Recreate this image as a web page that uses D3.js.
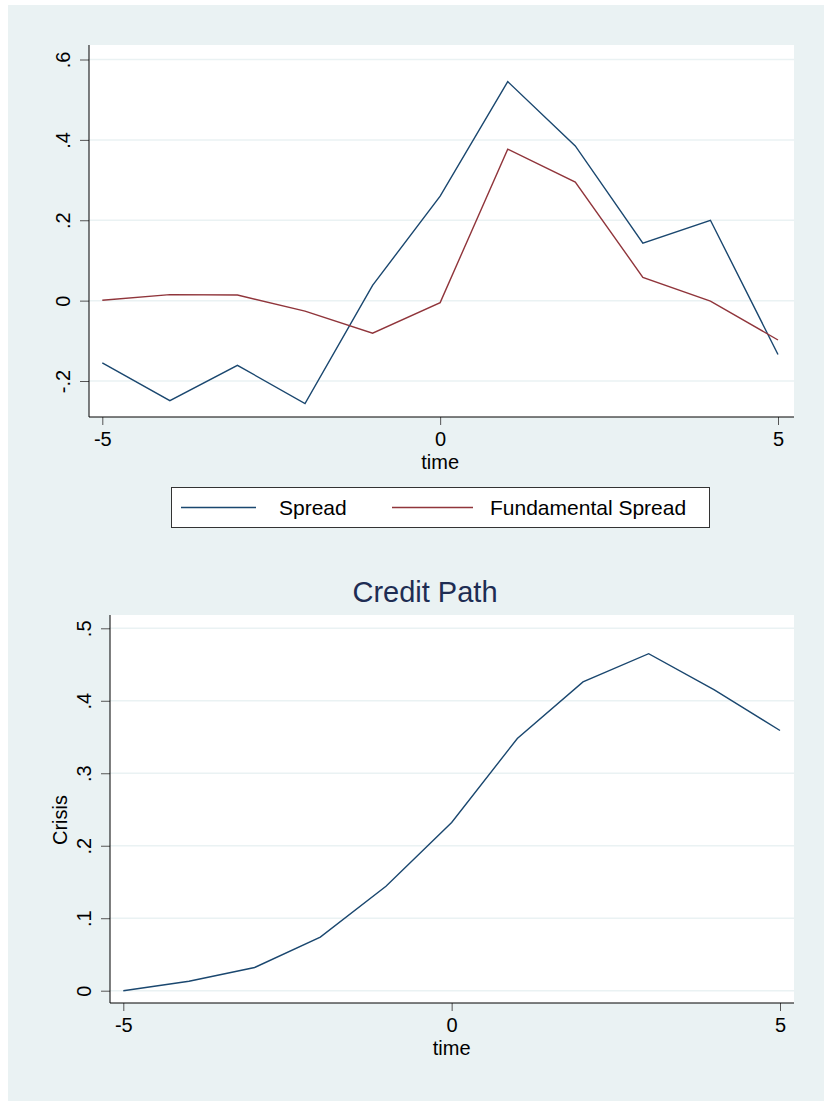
<!DOCTYPE html>
<html>
<head>
<meta charset="utf-8">
<script src="https://cdn.jsdelivr.net/npm/d3@7"></script>
<style>
body { margin:0; background:#fff; }
svg text { font-family: "Liberation Sans", Arial, sans-serif; fill:#000; }
</style>
</head>
<body>
<div id="chart"></div>
<script>
// event time
var time = [-5, -4, -3, -2, -1, 0, 1, 2, 3, 4, 5];
var spread = [-0.155, -0.249, -0.161, -0.256, 0.038, 0.260, 0.545, 0.385, 0.143, 0.200, -0.134];
var fundSpread = [0.001, 0.015, 0.014, -0.026, -0.081, -0.005, 0.377, 0.295, 0.058, -0.001, -0.098];
var crisis = [0.000, 0.013, 0.032, 0.074, 0.144, 0.232, 0.348, 0.426, 0.465, 0.415, 0.359];
var xTicks = [-5, 0, 5];
var yTicksTop = [-0.2, 0, 0.2, 0.4, 0.6];
var yTicksBot = [0, 0.1, 0.2, 0.3, 0.4, 0.5];
var legendLabels = ["Spread", "Fundamental Spread"];

var bg = "#eaf2f3", blue = "#1a476f", red = "#90353b";
var W = 824, H = 1101;

var svg = d3.select("#chart").append("svg").attr("width", W).attr("height", H);
svg.append("rect").attr("x", 8).attr("y", 5).attr("width", W - 8).attr("height", H - 5).attr("fill", bg);

// stata style labels: ".2", "-.2", plain hyphen
var fmt = function(d){ return d === 0 ? "0" : String(d).replace("0.", "."); };

function panel(o){
  var g = svg.append("g");
  g.append("rect").attr("x", o.left).attr("y", o.top)
    .attr("width", o.right - o.left).attr("height", o.bottom - o.top).attr("fill", "#fff");
  var x = d3.scaleLinear().domain([-5, 5]).range(o.xr);
  var y = d3.scaleLinear().domain(o.yd).range(o.yr);

  // grid
  g.selectAll(".grid").data(o.yTicks).enter().append("line")
    .attr("x1", o.left).attr("x2", o.right)
    .attr("y1", function(d){ return y(d); }).attr("y2", function(d){ return y(d); })
    .attr("stroke", bg).attr("stroke-width", 1.5);

  // y axis
  var ya = g.append("g").attr("transform", "translate(" + o.left + ",0)")
    .call(d3.axisLeft(y).tickValues(o.yTicks).tickFormat(fmt).tickSize(9));
  ya.select(".domain").remove();
  ya.append("line").attr("x1", 0).attr("x2", 0).attr("y1", o.top).attr("y2", o.bottom).attr("stroke", "#000");
  ya.selectAll(".tick line").attr("stroke", "#555");
  ya.selectAll(".tick text").attr("font-size", 20).attr("fill", "#000")
    .attr("text-anchor", "middle").attr("transform", "rotate(-90)")
    .attr("x", 0).attr("dy", 0).attr("y", -19);

  // x axis
  var xa = g.append("g").attr("transform", "translate(0," + o.bottom + ")")
    .call(d3.axisBottom(x).tickValues(xTicks).tickFormat(function(d){ return String(d); }).tickSize(8));
  xa.select(".domain").remove();
  xa.append("line").attr("x1", o.left).attr("x2", o.right).attr("y1", 0).attr("y2", 0).attr("stroke", "#000");
  xa.selectAll(".tick line").attr("stroke", "#555");
  xa.selectAll(".tick text").attr("font-size", 20).attr("fill", "#000").attr("dy", 0).attr("y", 29);

  g.append("text").attr("x", (o.xr[0] + o.xr[1]) / 2).attr("y", o.bottom + 52)
    .attr("text-anchor", "middle").attr("font-size", 20).text("time");

  var line = d3.line().x(function(d){ return x(d[0]); }).y(function(d){ return y(d[1]); });
  o.series.forEach(function(s){
    g.append("path").datum(d3.zip(time, s.values)).attr("d", line)
      .attr("fill", "none").attr("stroke", s.color).attr("stroke-width", 1.4);
  });
  return g;
}

panel({left: 89, right: 794, top: 45, bottom: 417, xr: [102.3, 778], yd: [-0.2, 0.6], yr: [381, 59.5],
  yTicks: yTicksTop, series: [{values: spread, color: blue}, {values: fundSpread, color: red}]});

var g2 = panel({left: 110, right: 794, top: 615, bottom: 1003, xr: [123.3, 780], yd: [0, 0.5], yr: [990.7, 628.3],
  yTicks: yTicksBot, series: [{values: crisis, color: blue}]});

g2.append("text").attr("transform", "translate(67,820) rotate(-90)")
  .attr("text-anchor", "middle").attr("font-size", 20).text("Crisis");

svg.append("text").attr("x", 425).attr("y", 602).attr("text-anchor", "middle")
  .attr("font-size", 29).style("fill", "#1e2d53").text("Credit Path");

// legend
var lg = svg.append("g");
lg.append("rect").attr("x", 171.5).attr("y", 487.5).attr("width", 538).attr("height", 40)
  .attr("fill", "#fff").attr("stroke", "#333");
var items = [{label: legendLabels[0], color: blue, x0: 181, x1: 256, tx: 279},
             {label: legendLabels[1], color: red, x0: 392, x1: 473, tx: 490}];
items.forEach(function(it){
  lg.append("line").attr("x1", it.x0).attr("x2", it.x1).attr("y1", 507.5).attr("y2", 507.5)
    .attr("stroke", it.color).attr("stroke-width", 1.4);
  lg.append("text").attr("x", it.tx).attr("y", 515).attr("font-size", 21).text(it.label);
});
</script>
</body>
</html>
